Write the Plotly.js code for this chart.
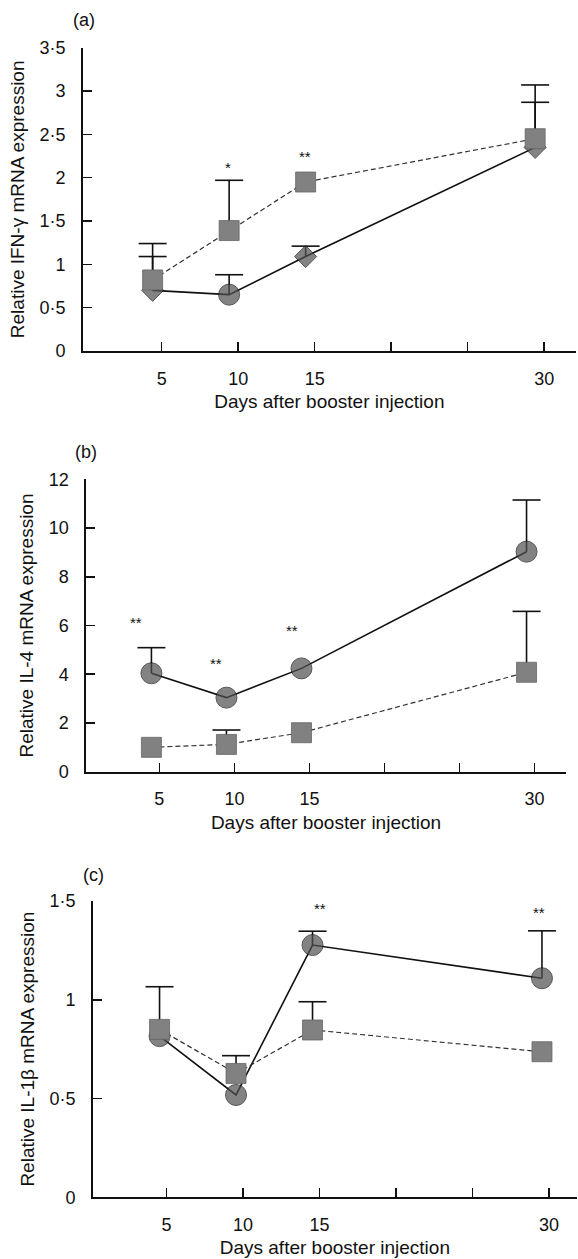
<!DOCTYPE html>
<html>
<head>
<meta charset="utf-8">
<script src="https://cdn.plot.ly/plotly-3.0.1.min.js"></script>
<style>
  html, body { margin: 0; padding: 0; background: #fff; }
  #chart { width: 578px; height: 1259px; }
</style>
</head>
<body>
<div id="chart"></div>
<script>
// ---------- data ----------
const days = [5, 10, 15, 30];
const xTickVals = [5, 10, 15, 20, 25, 30];
const xTickText = ['5', '10', '15', '', '', '30'];

// (a) IFN-gamma
const ifnSolid = [0.70, 0.65, 1.09, 2.35];
const ifnSolidErr = [0.39, 0.23, 0.12, 0.52];
const ifnSolidSymbols = ['diamond', 'circle', 'diamond', 'diamond'];
const ifnDashed = [0.82, 1.39, 1.95, 2.45];
const ifnDashedErr = [0.42, 0.58, null, 0.62];
const ifnTickVals = [0, 0.5, 1, 1.5, 2, 2.5, 3, 3.5];
const ifnTickText = ['0', '0·5', '1', '1·5', '2', '2·5', '3', '3·5'];
const ifnStarDays = [9.95, 14.93];
const ifnStarY = [2.16, 2.29];
const ifnStarText = ['*', '**'];

// (b) IL-4
const il4Solid = [4.04, 3.04, 4.24, 9.03];
const il4SolidErr = [1.05, null, null, 2.12];
const il4Dashed = [1.00, 1.12, 1.60, 4.08];
const il4DashedErr = [null, 0.59, null, 2.50];
const il4TickVals = [0, 2, 4, 6, 8, 10, 12];
const il4TickText = ['0', '2', '4', '6', '8', '10', '12'];
const il4StarDays = [3.94, 9.3, 14.4, 30.1];
const il4StarY = [6.27, 4.61, 5.95, 12.45];
const il4StarText = ['**', '**', '**', '*'];

// (c) IL-1beta
const il1Solid = [0.816, 0.518, 1.277, 1.109];
const il1SolidErr = [null, null, 0.07, 0.24];
const il1Dashed = [0.85, 0.627, 0.847, 0.737];
const il1DashedErr = [0.216, 0.09, 0.143, null];
const il1TickVals = [0, 0.5, 1, 1.5];
const il1TickText = ['0', '0·5', '1', '1·5'];
const il1StarDays = [15.48, 29.83];
const il1StarY = [1.48, 1.46];
const il1StarText = ['**', '**'];

// ---------- styling ----------
const FONT = 'Liberation Sans, Arial, Helvetica, sans-serif';
const W = 578, H = 1259;
const circleFill = '#505050';
const squareFill = '#818181';

// upward-only error bars: vertical stems from the mean to mean+SE, plus a top cap
function errStems(y, err, xa, ya) {
  const xs = [], ys = [];
  err.forEach((e, i) => {
    if (e === null) return;
    xs.push(days[i], days[i], null);
    ys.push(y[i], y[i] + e, null);
  });
  return {
    x: xs, y: ys, xaxis: xa, yaxis: ya, type: 'scatter', mode: 'lines',
    line: { color: '#111', width: 1.6 }, connectgaps: false,
    showlegend: false, hoverinfo: 'skip', cliponaxis: false
  };
}
function errCaps(y, err, xa, ya) {
  const idx = err.map((e, i) => (e === null ? -1 : i)).filter(i => i >= 0);
  return {
    x: idx.map(i => days[i]), y: idx.map(i => y[i] + err[i]), xaxis: xa, yaxis: ya,
    type: 'scatter', mode: 'markers',
    marker: { symbol: 'line-ew', size: 20, color: '#111', line: { color: '#111', width: 1.6 } },
    showlegend: false, hoverinfo: 'skip', cliponaxis: false
  };
}
function solidTrace(y, symbols, xa, ya) {
  return {
    x: days, y: y, xaxis: xa, yaxis: ya, type: 'scatter', mode: 'lines+markers',
    line: { color: '#111', width: 1.6 },
    marker: {
      symbol: symbols, size: symbols.map(s => s === 'diamond' ? 17 : 21),
      color: circleFill, line: { color: '#111', width: 1 }
    },
    showlegend: false, hoverinfo: 'skip', cliponaxis: false
  };
}
function dashedTrace(y, xa, ya) {
  return {
    x: days, y: y, xaxis: xa, yaxis: ya, type: 'scatter', mode: 'lines+markers',
    line: { color: '#333', width: 1.2, dash: '5px,3px' },
    marker: { symbol: 'square', size: 20, color: squareFill, line: { color: '#666', width: 0.8 } },
    showlegend: false, hoverinfo: 'skip', cliponaxis: false
  };
}
function panel(solid, solidErr, dashed, dashedErr, symbols, xa, ya) {
  return [
    errStems(solid, solidErr, xa, ya), errCaps(solid, solidErr, xa, ya),
    errStems(dashed, dashedErr, xa, ya), errCaps(dashed, dashedErr, xa, ya),
    solidTrace(solid, symbols, xa, ya),
    dashedTrace(dashed, xa, ya)
  ];
}

const circles = days.map(() => 'circle');
const data = [].concat(
  panel(ifnSolid, ifnSolidErr, ifnDashed, ifnDashedErr, ifnSolidSymbols, 'x', 'y'),
  panel(il4Solid, il4SolidErr, il4Dashed, il4DashedErr, circles, 'x2', 'y2'),
  panel(il1Solid, il1SolidErr, il1Dashed, il1DashedErr, circles, 'x3', 'y3')
);

// pixel geometry helpers (layout only)
function px(x) { return x / W; }
function py(y) { return (H - y) / H; }

// the plotted points sit slightly left of the day tick marks in the reference,
// so tick marks are drawn a fraction of a day to the right of the data positions
function xAxis(domain, range, shift, anchor) {
  return {
    domain: domain, range: [range[0] + shift, range[1] + shift], anchor: anchor,
    tickmode: 'array', tickvals: xTickVals.map(v => v + shift), ticktext: xTickText,
    ticks: 'inside', ticklen: 9, tickwidth: 1.5, tickcolor: '#111',
    showline: true, linecolor: '#111', linewidth: 2,
    showgrid: false, zeroline: false, fixedrange: true,
    tickfont: { family: FONT, size: 18, color: '#111' },
    ticklabelstandoff: 10,
    title: { text: 'Days after booster injection', font: { family: FONT, size: 19, color: '#111' }, standoff: 7 }
  };
}
function yAxis(domain, range, vals, text, title, anchor) {
  return {
    domain: domain, range: range, anchor: anchor,
    tickmode: 'array', tickvals: vals, ticktext: text,
    ticks: 'inside', ticklen: 9, tickwidth: 1.5, tickcolor: '#111',
    showline: true, linecolor: '#111', linewidth: 1.6,
    showgrid: false, zeroline: false, fixedrange: true,
    tickfont: { family: FONT, size: 18, color: '#111' },
    ticklabelstandoff: 12,
    title: { text: title, font: { family: FONT, size: 19, color: '#111' }, standoff: 10 }
  };
}

const rangeA = [-0.16, 32.08], shiftA = 0.59;
const rangeB = [0.11, 32.1], shiftB = 0.53;
const rangeC = [0.17, 31.83], shiftC = 0.46;

function stars(daysArr, yArr, textArr, xref, yref) {
  return daysArr.map((d, i) => ({
    x: d, y: yArr[i], xref: xref, yref: yref, text: textArr[i],
    showarrow: false, yshift: -4,
    font: { family: FONT, size: 15, color: '#111' }
  }));
}
function panelLabel(text, x, y) {
  return { x: px(x), y: py(y), xref: 'paper', yref: 'paper', text: text, showarrow: false,
           xanchor: 'center', yanchor: 'middle',
           font: { family: FONT, size: 18, color: '#111' } };
}

const layout = {
  width: W, height: H,
  margin: { l: 0, r: 0, t: 0, b: 0 },
  paper_bgcolor: '#fff', plot_bgcolor: 'rgba(0,0,0,0)',
  showlegend: false,
  xaxis: xAxis([px(82.7), px(576)], rangeA, shiftA, 'y'),
  xaxis2: xAxis([px(86), px(566)], rangeB, shiftB, 'y2'),
  xaxis3: xAxis([px(92.7), px(577)], rangeC, shiftC, 'y3'),
  yaxis: yAxis([py(351), py(47.7)], [0, 3.5], ifnTickVals, ifnTickText, 'Relative IFN-γ mRNA expression', 'x'),
  yaxis2: yAxis([py(771.7), py(479.3)], [0, 12], il4TickVals, il4TickText, 'Relative IL-4 mRNA expression', 'x2'),
  yaxis3: yAxis([py(1197.3), py(901)], [0, 1.5], il1TickVals, il1TickText, 'Relative IL-1β mRNA expression', 'x3'),
  annotations: [].concat(
    stars(ifnStarDays, ifnStarY, ifnStarText, 'x', 'y'),
    stars(il4StarDays, il4StarY, il4StarText, 'x2', 'y2'),
    stars(il1StarDays, il1StarY, il1StarText, 'x3', 'y3'),
    [panelLabel('(a)', 84, 20), panelLabel('(b)', 86, 452), panelLabel('(c)', 93, 875)]
  )
};

Plotly.newPlot('chart', data, layout, { displayModeBar: false, staticPlot: true });
</script>
</body>
</html>
